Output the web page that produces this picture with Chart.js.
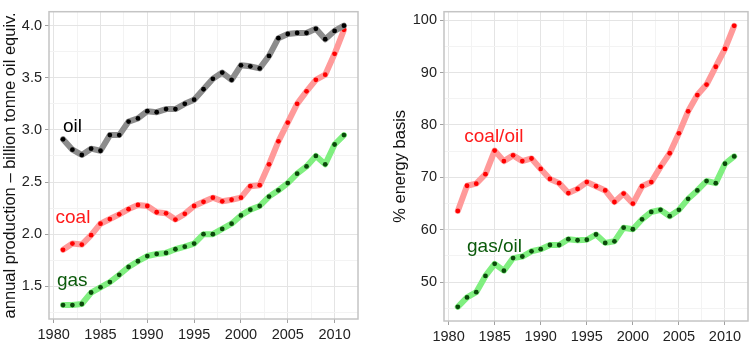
<!DOCTYPE html>
<html>
<head>
<meta charset="utf-8">
<script src="https://cdn.jsdelivr.net/npm/chart.js@4.4.1/dist/chart.umd.min.js"></script>
<style>
  body { margin: 0; background: #fff; width: 754px; height: 351px; overflow: hidden; position: relative; }
  canvas { position: absolute; top: 0; }
  #left { left: 0; }
  #right { left: 380px; }
</style>
</head>
<body>
<canvas id="left" width="362" height="351"></canvas>
<canvas id="right" width="374" height="351"></canvas>
<script>
// data
const years = [1981, 1982, 1983, 1984, 1985, 1986, 1987, 1988, 1989, 1990,
  1991, 1992, 1993, 1994, 1995, 1996, 1997, 1998, 1999, 2000,
  2001, 2002, 2003, 2004, 2005, 2006, 2007, 2008, 2009, 2010, 2011];

// billion tonne oil equivalent
const oil = [2.91, 2.81, 2.76, 2.82, 2.80, 2.95, 2.95, 3.08, 3.11, 3.18,
  3.17, 3.20, 3.20, 3.25, 3.29, 3.39, 3.49, 3.55, 3.48, 3.62,
  3.61, 3.59, 3.71, 3.88, 3.92, 3.93, 3.93, 3.97, 3.87, 3.95, 4.00];
const coal = [1.85, 1.91, 1.90, 1.99, 2.10, 2.145, 2.19, 2.24, 2.28, 2.27,
  2.21, 2.20, 2.14, 2.195, 2.27, 2.31, 2.35, 2.315, 2.33, 2.35,
  2.46, 2.47, 2.67, 2.89, 3.07, 3.25, 3.37, 3.48, 3.53, 3.73, 3.96];
const gas = [1.32, 1.32, 1.33, 1.44, 1.49, 1.54, 1.61, 1.685, 1.74, 1.79,
  1.81, 1.82, 1.855, 1.88, 1.91, 2.00, 2.00, 2.05, 2.10, 2.18,
  2.235, 2.27, 2.36, 2.42, 2.49, 2.58, 2.65, 2.75, 2.67, 2.86, 2.95];

// % energy basis
const coalOil = [63.6, 68.4, 68.8, 70.6, 75.1, 73.1, 74.2, 73.1, 73.6, 71.6,
  69.7, 68.9, 67.0, 67.8, 69.1, 68.3, 67.5, 65.3, 66.9, 65.0,
  68.3, 69.1, 72.0, 74.6, 78.4, 82.6, 85.7, 87.7, 91.1, 94.5, 98.9];
const gasOil = [45.3, 47.1, 48.1, 51.2, 53.5, 52.2, 54.6, 54.9, 55.9, 56.3,
  57.1, 57.1, 58.2, 58.0, 58.1, 59.1, 57.5, 57.8, 60.4, 60.1,
  62.0, 63.4, 63.8, 62.6, 63.8, 65.9, 67.5, 69.3, 68.9, 72.6, 74.0];

const yearTicks = [1980, 1985, 1990, 1995, 2000, 2005, 2010];
const yearMinor = [1982.5, 1987.5, 1992.5, 1997.5, 2002.5, 2007.5];
const prodTicks = [1.5, 2.0, 2.5, 3.0, 3.5, 4.0];
const prodMinor = [1.25, 1.75, 2.25, 2.75, 3.25, 3.75];
const pctTicks = [50, 60, 70, 80, 90, 100];
const pctMinor = [45, 55, 65, 75, 85, 95];

const FONT = "'Liberation Sans', Arial, sans-serif";

function pts(ys) {
  return years.map((x, i) => ({ x: x, y: ys[i] }));
}

function axis(major, minor, min, max, fmt, size, vertical) {
  const isMajor = new Set(major);
  return {
    type: 'linear',
    min: min,
    max: max,
    afterBuildTicks: s => {
      s.ticks = major.concat(minor).sort((a, b) => a - b).map(v => ({ value: v }));
    },
    afterFit: s => {
      if (vertical) s.width = size; else s.height = size;
    },
    ticks: {
      autoSkip: false,
      maxRotation: 0,
      padding: 3,
      color: '#222',
      font: { family: FONT, size: 14.5 },
      callback: v => isMajor.has(v) ? fmt(v) : ''
    },
    grid: {
      color: c => c.tick && isMajor.has(c.tick.value) ? '#e4e4e4' : '#f3f3f3',
      tickColor: c => c.tick && isMajor.has(c.tick.value) ? '#a0a0a0' : 'rgba(0,0,0,0)',
      tickLength: 4,
      lineWidth: 1
    },
    border: { display: false }
  };
}

const panelBox = {
  id: 'panelBox',
  beforeDatasetsDraw(chart) {
    const { ctx, chartArea: a } = chart;
    ctx.save();
    ctx.strokeStyle = '#c4c4c4';
    ctx.lineWidth = 1.5;
    ctx.strokeRect(a.left, a.top, a.right - a.left, a.bottom - a.top);
    ctx.restore();
  }
};

const seriesLabels = {
  id: 'seriesLabels',
  afterDatasetsDraw(chart, args, opts) {
    const { ctx, scales } = chart;
    ctx.save();
    ctx.font = '19px ' + FONT;
    ctx.textAlign = 'left';
    ctx.textBaseline = 'middle';
    (opts.items || []).forEach(it => {
      ctx.fillStyle = it.color;
      ctx.fillText(it.text, scales.x.getPixelForValue(it.x), scales.y.getPixelForValue(it.y));
    });
    ctx.restore();
  }
};

function series(label, ys, line, dot) {
  return {
    label: label,
    data: pts(ys),
    borderColor: line,
    borderWidth: 6,
    pointRadius: 2.4,
    pointBackgroundColor: dot,
    pointBorderWidth: 0,
    tension: 0,
    borderJoinStyle: 'round',
    borderCapStyle: 'round'
  };
}

function makeChart(id, datasets, yMajor, yMinor, yMin, yMax, yFmt, yWidth, xHeight, title, titlePad, pad, labels) {
  return new Chart(document.getElementById(id), {
    type: 'line',
    data: { datasets: datasets },
    plugins: [panelBox, seriesLabels],
    options: {
      responsive: false,
      animation: false,
      devicePixelRatio: 1,
      layout: { padding: pad },
      plugins: {
        legend: { display: false },
        tooltip: { enabled: false },
        seriesLabels: { items: labels }
      },
      scales: {
        x: axis(yearTicks, yearMinor, 1979.5, 2012.5, v => String(v), xHeight, false),
        y: Object.assign(axis(yMajor, yMinor, yMin, yMax, yFmt, yWidth, true), {
          title: {
            display: true,
            text: title,
            color: '#111',
            font: { family: FONT, size: 16.5 },
            padding: { top: titlePad, bottom: 0 }
          }
        })
      }
    }
  });
}

makeChart('left', [
    series('oil', oil, '#8c8c8c', '#000000'),
    series('coal', coal, '#ff9a9a', '#ff0000'),
    series('gas', gas, '#80ef80', '#0a4a0a')
  ], prodTicks, prodMinor, 1.186, 4.134, v => v.toFixed(1), 49, 32,
  'annual production \u2013 billion tonne oil equiv.', 1,
  { top: 5, right: 4, left: 0, bottom: 0 },
  [
    { text: 'oil', x: 1981.0, y: 3.03, color: '#000000' },
    { text: 'coal', x: 1980.2, y: 2.155, color: '#ff1a1a' },
    { text: 'gas', x: 1980.35, y: 1.55, color: '#0b5a0b' }
  ]);

makeChart('right', [
    series('coal/oil', coalOil, '#ff9a9a', '#ff0000'),
    series('gas/oil', gasOil, '#80ef80', '#0a4a0a')
  ], pctTicks, pctMinor, 42.6, 101.6, v => String(v), 64, 30,
  '% energy basis', 11,
  { top: 5, right: 6, left: 0, bottom: 0 },
  [
    { text: 'coal/oil', x: 1981.7, y: 77.7, color: '#ff1a1a' },
    { text: 'gas/oil', x: 1982.0, y: 56.8, color: '#0b5a0b' }
  ]);
</script>
</body>
</html>
